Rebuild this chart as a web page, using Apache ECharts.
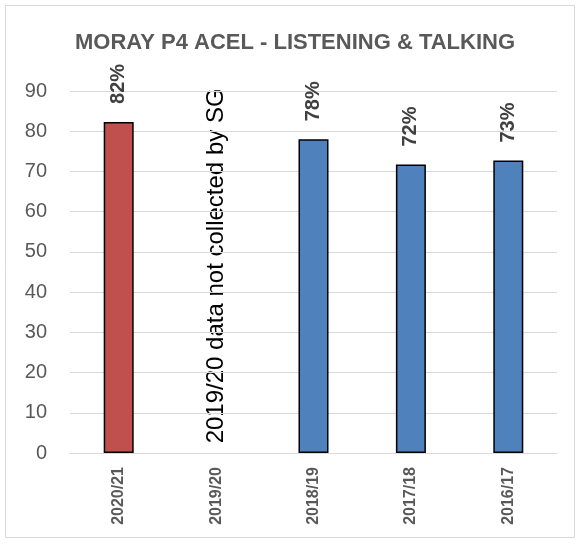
<!DOCTYPE html>
<html>
<head>
<meta charset="utf-8">
<script src="https://cdn.jsdelivr.net/npm/echarts@6/dist/echarts.min.js"></script>
<style>
html,body{margin:0;padding:0;background:#fff;}
#chart{width:580px;height:544px;}
</style>
</head>
<body>
<div id="chart"></div>
<script>
var titleText = 'MORAY P4 ACEL - LISTENING & TALKING';
var categories = ['2020/21', '2019/20', '2018/19', '2017/18', '2016/17'];
var values = [82.3, null, 78.0, 71.7, 72.7];
var barColors = ['#C0504D', '#4F81BD', '#4F81BD', '#4F81BD', '#4F81BD'];
var yTicks = [0, 10, 20, 30, 40, 50, 60, 70, 80, 90];
var noteText = '2019/20 data not collected by SG';
var noteCategory = '2019/20';

var FONT = '"Liberation Sans", Arial, sans-serif';
var chart = echarts.init(document.getElementById('chart'), null, {renderer: 'canvas'});

var borderRect = {
  type: 'rect',
  silent: true,
  shape: {x: 5.5, y: 5.5, width: 569, height: 532},
  style: {fill: 'none', stroke: '#d9d9d9', lineWidth: 1}
};

var option = {
  backgroundColor: '#ffffff',
  animation: false,
  title: {
    text: titleText,
    left: 75,
    top: 32,
    padding: 0,
    textStyle: {fontFamily: FONT, fontSize: 22, fontWeight: 'bold', color: '#595959'}
  },
  grid: {left: 70, right: 23, top: 91, bottom: 91, containLabel: false},
  xAxis: {
    type: 'category',
    data: categories,
    axisLine: {show: true, lineStyle: {color: '#d9d9d9', width: 1}},
    axisTick: {show: false},
    axisLabel: {
      rotate: 90, margin: 14, interval: 0,
      fontFamily: FONT, fontSize: 16, fontWeight: 'bold', color: '#595959'
    }
  },
  yAxis: {
    type: 'value',
    min: yTicks[0],
    max: yTicks[yTicks.length - 1],
    interval: yTicks[1] - yTicks[0],
    axisLine: {show: false},
    axisTick: {show: false},
    splitLine: {lineStyle: {color: '#d9d9d9', width: 1}},
    axisLabel: {margin: 23, fontFamily: FONT, fontSize: 20, color: '#595959'}
  },
  series: [{
    type: 'bar',
    barWidth: 30,
    data: values.map(function (v, i) {
      return {value: v, itemStyle: {color: barColors[i]}};
    }),
    itemStyle: {borderColor: '#000000', borderWidth: 1.5},
    label: {
      show: true,
      position: 'top',
      distance: 18,
      rotate: 90,
      align: 'left',
      verticalAlign: 'middle',
      fontFamily: FONT, fontSize: 20, fontWeight: 'bold', color: '#404040',
      formatter: function (p) { return Math.round(p.value) + '%'; }
    }
  }],
  graphic: [borderRect]
};
chart.setOption(option);

var px = chart.convertToPixel({xAxisIndex: 0}, noteCategory);
var py = chart.convertToPixel({yAxisIndex: 0}, 2.4);
chart.setOption({
  graphic: [borderRect, {
    type: 'text',
    silent: true,
    x: px,
    y: py,
    rotation: Math.PI / 2,
    style: {
      text: noteText,
      fontFamily: FONT, fontSize: 24, fill: '#000000',
      align: 'left', verticalAlign: 'middle'
    }
  }]
});
</script>
</body>
</html>
